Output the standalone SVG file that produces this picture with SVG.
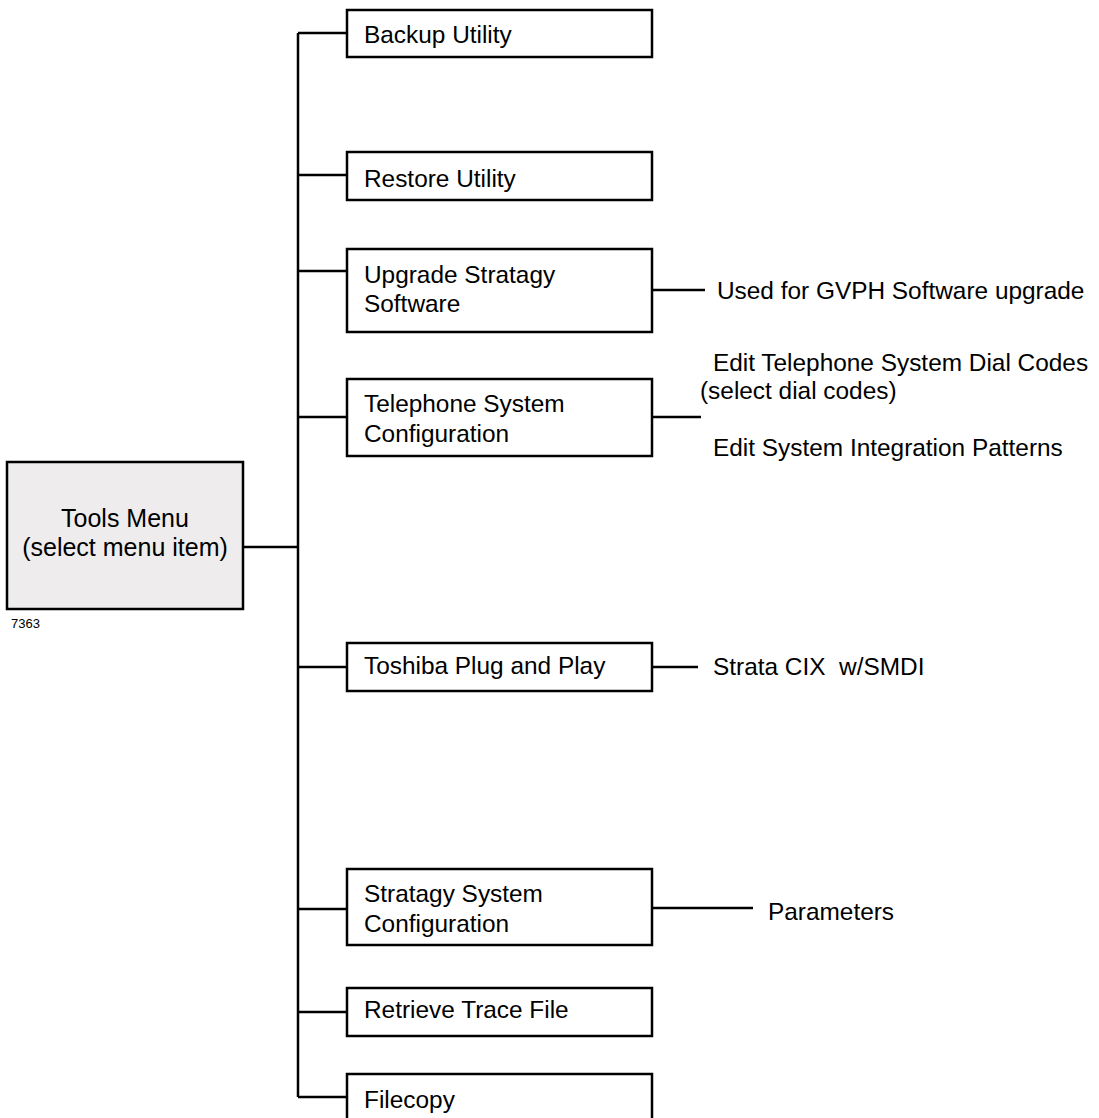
<svg xmlns="http://www.w3.org/2000/svg" width="1099" height="1118" viewBox="0 0 1099 1118">
<style>
.box{fill:#fff;stroke:#000;stroke-width:2.5}
.root{fill:#eeeced;stroke:#000;stroke-width:2.5}
.ln{stroke:#000;stroke-width:2.5;fill:none}
text{font-family:"Liberation Sans",Arial,sans-serif;font-size:24.4px;fill:#000}
.c{text-anchor:middle;font-size:25px}
.s{font-size:13px}
</style>
<rect width="1099" height="1118" fill="#fff"/>
<g id="connectors">
<path class="ln" d="M243,547H298M298,33V1097M298,33H347M298,175H347M298,271H347M298,417H347M298,667H347M298,909H347M298,1012H347M298,1097H347"/>
<path class="ln" d="M652,290H705M652,417H701M652,667H698M652,908H753"/>
</g>
<g id="tools"><rect class="root" x="7" y="462" width="236" height="147"/><text class="c" x="125" y="527">Tools Menu</text><text class="c" x="125" y="556">(select menu item)</text></g>
<text class="s" x="11" y="628">7363</text>
<g id="backup"><rect class="box" x="347" y="10" width="305" height="47"/><text x="364" y="43">Backup Utility</text></g>
<g id="restore"><rect class="box" x="347" y="152" width="305" height="48"/><text x="364" y="187">Restore Utility</text></g>
<g id="upgrade"><rect class="box" x="347" y="249" width="305" height="83"/><text x="364" y="283">Upgrade Stratagy</text><text x="364" y="312">Software</text></g>
<g id="telephone"><rect class="box" x="347" y="379" width="305" height="77"/><text x="364" y="412">Telephone System</text><text x="364" y="442">Configuration</text></g>
<g id="toshiba"><rect class="box" x="347" y="643" width="305" height="48"/><text x="364" y="674">Toshiba Plug and Play</text></g>
<g id="stratagy"><rect class="box" x="347" y="869" width="305" height="76"/><text x="364" y="902">Stratagy System</text><text x="364" y="932">Configuration</text></g>
<g id="retrieve"><rect class="box" x="347" y="988" width="305" height="48"/><text x="364" y="1018">Retrieve Trace File</text></g>
<g id="filecopy"><rect class="box" x="347" y="1074" width="305" height="50"/><text x="364" y="1108">Filecopy</text></g>
<g id="labels">
<text x="717" y="299">Used for GVPH Software upgrade</text>
<text x="713" y="371">Edit Telephone System Dial Codes</text>
<text x="700" y="399">(select dial codes)</text>
<text x="713" y="456">Edit System Integration Patterns</text>
<text x="713" y="675" style="white-space:pre">Strata CIX  w/SMDI</text>
<text x="768" y="920">Parameters</text>
</g>
</svg>
